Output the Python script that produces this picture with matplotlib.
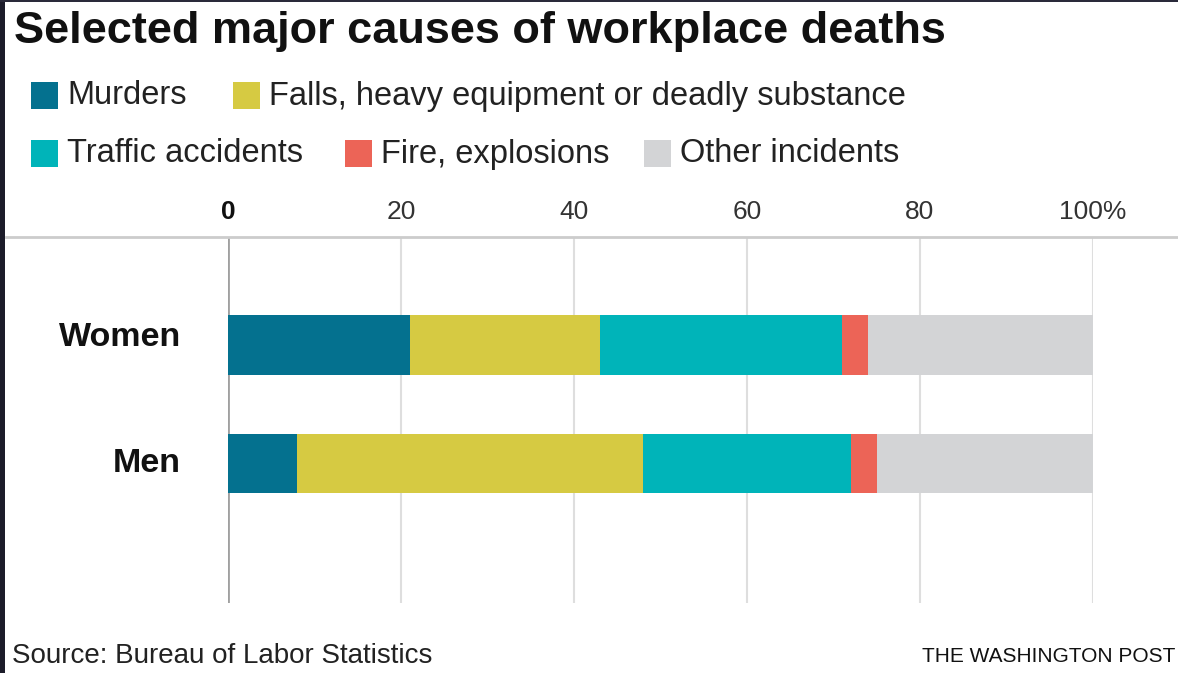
import matplotlib.pyplot as plt
from matplotlib.patches import Rectangle
from matplotlib.lines import Line2D

plt.rcParams['font.family'] = ['Liberation Sans', 'DejaVu Sans']

groups = ["Women", "Men"]
causes = ["Murders", "Falls, heavy equipment or deadly substance",
          "Traffic accidents", "Fire, explosions", "Other incidents"]
colors = ["#04718f", "#d6ca42", "#00b4b9", "#ec6457", "#d3d4d6"]
women = [21, 22, 28, 3, 26]
men = [8, 40, 24, 3, 25]
ticks = [0, 20, 40, 60, 80, 100]
tick_labels = ["0", "20", "40", "60", "80", "100%"]

W, H = 1178, 673
fig = plt.figure(figsize=(W / 100, H / 100), dpi=100)
fig.patch.set_facecolor("white")

ax = fig.add_axes([228 / W, 70 / H, 865 / W, 366 / H])
ax.set_xlim(0, 100)
ax.set_ylim(2.186, -0.915)

# stacked bars
values = [women, men]
for i, vals in enumerate(values):
    left = 0
    for v, c in zip(vals, colors):
        ax.barh(i, v, left=left, height=0.5, color=c, edgecolor="none", zorder=3)
        left += v

# gridlines
for t in ticks:
    if t == 0:
        ax.axvline(t, color="#a0a0a0", lw=2, zorder=2)
    else:
        ax.axvline(t, color="#dedede", lw=1.5, zorder=1)

for s in ax.spines.values():
    s.set_visible(False)
ax.set_xticks([])
ax.set_yticks([])

# tick labels above the top rule
for t, lab in zip(ticks, tick_labels):
    ax.text(t, -0.915 - 0.21, lab, ha="center", va="center", fontsize=19,
            color="#111111" if t == 0 else "#333333",
            fontweight="bold" if t == 0 else "normal", clip_on=False)

# category labels
for i, g in enumerate(groups):
    fig.text(181 / W, 1 - (338 + i * 125) / H, g, ha="right", va="center",
             fontsize=24.5, fontweight="bold", color="#111111")

# top rule spanning the figure
fig.add_artist(Line2D([6 / W, 1], [1 - 237 / H] * 2, color="#cccccc", lw=2))

# title
fig.text(14 / W, 1 - 31 / H, "Selected major causes of workplace deaths",
         ha="left", va="center", fontsize=32.5, fontweight="bold", color="#111111")

# legend
legend_pos = [(31, 95), (233, 95), (31, 153), (345, 153), (644, 153)]
for (x, y), lab, c in zip(legend_pos, causes, colors):
    fig.add_artist(Rectangle((x / W, 1 - (y + 13.5) / H), 27 / W, 27 / H,
                             facecolor=c, edgecolor="none",
                             transform=fig.transFigure))
    fig.text((x + 36) / W, 1 - (y + 1) / H, lab, ha="left", va="center",
             fontsize=23.5, color="#222222")

# footer
fig.text(12 / W, 1 - 656 / H, "Source: Bureau of Labor Statistics",
         ha="left", va="center", fontsize=20, color="#222222")
fig.text(1175 / W, 1 - 657 / H, "THE WASHINGTON POST",
         ha="right", va="center", fontsize=15, color="#111111")

# dark frame edges
fig.add_artist(Rectangle((0, 0), 5 / W, 1, facecolor="#1c1c2a",
                         edgecolor="none", transform=fig.transFigure))
fig.add_artist(Rectangle((0, 1 - 2 / H), 1, 2 / H, facecolor="#2a2a3a",
                         edgecolor="none", transform=fig.transFigure))

fig.savefig("out.png", dpi=100)
